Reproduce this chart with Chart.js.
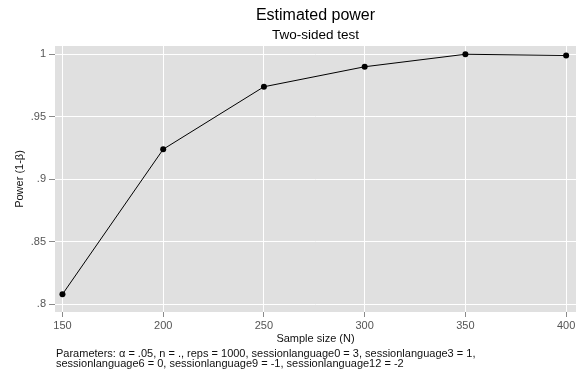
<!DOCTYPE html>
<html>
<head>
<meta charset="utf-8">
<script src="https://cdn.jsdelivr.net/npm/chart.js@4"></script>
<style>
  html, body { margin: 0; padding: 0; background: #fff; }
  canvas { display: block; }
</style>
</head>
<body>
<canvas id="chart-power" width="580" height="376"></canvas>
<script>
const sampleSizes = [150, 200, 250, 300, 350, 400];
const powerValues = [0.808, 0.924, 0.974, 0.990, 1.000, 0.999];
const xTicks = [150, 200, 250, 300, 350, 400];
const yTicks = [0.8, 0.85, 0.9, 0.95, 1];
const yTickLabels = ['.8', '.85', '.9', '.95', '1'];

const titleText = 'Estimated power';
const subtitleText = 'Two-sided test';
const xTitle = 'Sample size (N)';
const yTitle = 'Power (1-\u03b2)';
const noteLines = [
    'Parameters: \u03b1 = .05, n = ., reps = 1000, sessionlanguage0 = 3, sessionlanguage3 = 1,',
    'sessionlanguage6 = 0, sessionlanguage9 = -1, sessionlanguage12 = -2'
];

const FONT = '"Liberation Sans", Arial, Helvetica, sans-serif';

// grey plot region behind the data
const plotBackground = {
    id: 'plotBackground',
    beforeDraw(chart) {
        const { ctx, chartArea: a } = chart;
        ctx.save();
        ctx.fillStyle = '#e0e0e0';
        ctx.fillRect(a.left, a.top, a.right - a.left, a.bottom - a.top);
        ctx.restore();
    }
};

// titles, axis titles and note, placed around the plot region
const stataText = {
    id: 'stataText',
    afterDraw(chart) {
        const { ctx, chartArea: a } = chart;
        const cx = (a.left + a.right) / 2;
        ctx.save();
        ctx.textAlign = 'center';
        ctx.textBaseline = 'alphabetic';

        ctx.fillStyle = '#000';
        ctx.font = '16px ' + FONT;
        ctx.fillText(titleText, cx, 20);
        ctx.font = '13.5px ' + FONT;
        ctx.fillText(subtitleText, cx, 38.5);

        ctx.fillStyle = '#111';
        ctx.font = '11px ' + FONT;
        ctx.fillText(xTitle, cx, 342);

        ctx.save();
        ctx.translate(23, (a.top + a.bottom) / 2);
        ctx.rotate(-Math.PI / 2);
        ctx.fillText(yTitle, 0, 0);
        ctx.restore();

        ctx.textAlign = 'left';
        ctx.font = '11px ' + FONT;
        noteLines.forEach((line, i) => ctx.fillText(line, 56, 356.5 + i * 10));
        ctx.restore();
    }
};

const ctx = document.getElementById('chart-power').getContext('2d');
new Chart(ctx, {
    type: 'line',
    data: {
        labels: sampleSizes,
        datasets: [{
            data: sampleSizes.map((n, i) => ({ x: n, y: powerValues[i] })),
            borderColor: '#000',
            borderWidth: 1,
            backgroundColor: '#000',
            pointRadius: 3,
            pointBorderWidth: 0,
            tension: 0
        }]
    },
    options: {
        responsive: false,
        animation: false,
        layout: { padding: { top: 46, right: 2, left: 0, bottom: 0 } },
        plugins: {
            legend: { display: false },
            tooltip: { enabled: false }
        },
        scales: {
            x: {
                type: 'linear',
                min: 146.3,
                max: 404.9,
                afterBuildTicks: s => { s.ticks = xTicks.map(v => ({ value: v })); },
                afterFit: s => { s.height = 64; },
                border: { display: false },
                grid: { color: '#fff', lineWidth: 1, tickColor: '#8a8a8a', tickLength: 5 },
                ticks: {
                    color: '#555',
                    font: { family: FONT, size: 11 },
                    padding: 2,
                    maxRotation: 0
                }
            },
            y: {
                min: 0.7938,
                max: 1.0066,
                afterBuildTicks: s => { s.ticks = yTicks.map(v => ({ value: v })); },
                afterFit: s => { s.width = 55; },
                border: { display: false },
                grid: { color: '#fff', lineWidth: 1, tickColor: '#8a8a8a', tickLength: 6 },
                ticks: {
                    color: '#555',
                    font: { family: FONT, size: 11 },
                    padding: 3,
                    callback: (v, i) => yTickLabels[i]
                }
            }
        }
    },
    plugins: [plotBackground, stataText]
});
</script>
</body>
</html>
